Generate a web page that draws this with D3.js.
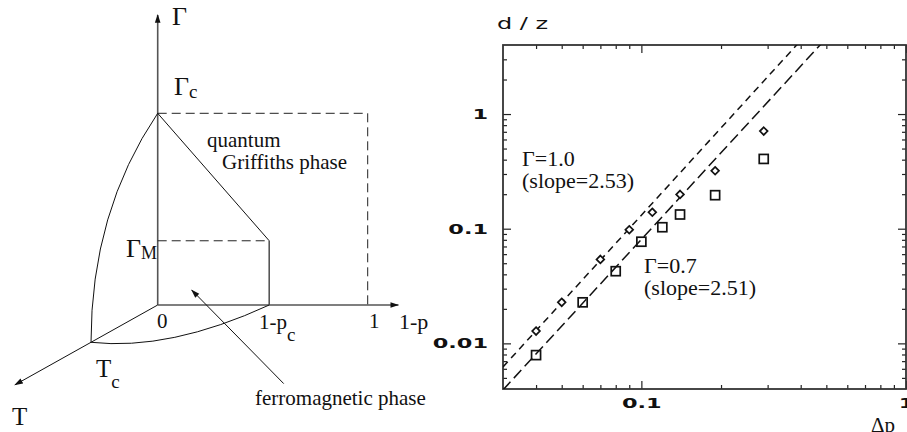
<!DOCTYPE html>
<html>
<head>
<meta charset="utf-8">
<script src="https://cdn.jsdelivr.net/npm/d3@7"></script>
<style>
  body { margin: 0; background: #fff; }
  svg { display: block; }
  .serif { font-family: "Liberation Serif", "DejaVu Serif", serif; fill: #111; }
  .tick text { font-family: "DejaVu Sans", sans-serif; font-weight: bold; font-size: 14px; fill: #111; }
</style>
</head>
<body>
<div id="chart"></div>
<script>
// right panel: d/z against Δp, log-log
const deltaP1 = [0.04, 0.05, 0.07, 0.09, 0.11, 0.14, 0.19, 0.29];   // Γ=1.0, diamonds
const dz1     = [0.0128, 0.0228, 0.054, 0.098, 0.139, 0.199, 0.32, 0.71];
const deltaP2 = [0.04, 0.06, 0.08, 0.10, 0.12, 0.14, 0.19, 0.29];   // Γ=0.7, squares
const dz2     = [0.0079, 0.0228, 0.0426, 0.077, 0.103, 0.133, 0.196, 0.406];
const fitSlopes = [2.53, 2.51];
const fitPrefac = [44.4, 26.1];
const fitNames  = ["Γ=1.0", "Γ=0.7"];
const yMajor = [0.01, 0.1, 1];
const xMajor = [0.1, 1];

// left panel: schematic phase diagram in (1-p, Γ, T) units
const pC = 0.531;          // 1-p_c
const gammaC = 1;
const gammaM = 0.335;
const tC = 1;

const W = 907, H = 432;
const svg = d3.select("#chart").append("svg")
    .attr("width", W).attr("height", H)
    .attr("viewBox", `0 0 ${W} ${H}`);

const defs = svg.append("defs");
defs.append("marker")
    .attr("id", "arrow")
    .attr("viewBox", "0 -4 10 8")
    .attr("refX", 9).attr("refY", 0)
    .attr("markerWidth", 9).attr("markerHeight", 7)
    .attr("markerUnits", "userSpaceOnUse")
    .attr("orient", "auto")
    .append("path").attr("d", "M0,-3.2L10,0L0,3.2Z").attr("fill", "#111");

// ---------------- left panel ----------------
const left = svg.append("g");
const px = d3.scaleLinear().domain([0, 1]).range([157.7, 367.7]);
const gy = d3.scaleLinear().domain([0, 1]).range([305, 113.3]);
const tdx = -66.7, tdy = 37.3;   // screen offset of one unit of T

function proj(p, g, t) {
    return [px(p) + t * tdx, gy(g) + t * tdy];
}
function seg(a, b, opts) {
    const l = left.append("line")
        .attr("x1", a[0]).attr("y1", a[1])
        .attr("x2", b[0]).attr("y2", b[1])
        .attr("stroke", opts.color || "#111")
        .attr("stroke-width", opts.w || 1)
        .attr("fill", "none");
    if (opts.dash) l.attr("stroke-dasharray", opts.dash);
    if (opts.arrow) l.attr("marker-end", "url(#arrow)");
    return l;
}

const O = proj(0, 0, 0);
seg(O, proj(0, 1.513, 0), { color: "#555", w: 1.6, arrow: true });
seg(O, proj(1.146, 0, 0), { color: "#555", w: 1.6, arrow: true });
seg(O, proj(0, 0, 2.14), { color: "#111", w: 1, arrow: true });

// dashed outline of the Griffiths region
seg(proj(0, gammaC, 0), proj(1, gammaC, 0), { color: "#222", dash: "9,5" });
seg(proj(1, gammaC, 0), proj(1, 0, 0), { color: "#222", dash: "9,5" });
seg(proj(0, gammaM, 0), proj(pC, gammaM, 0), { color: "#222", dash: "9,5" });

// phase boundaries
seg(proj(0, gammaC, 0), proj(pC, gammaM, 0), { color: "#111", w: 1 });
seg(proj(pC, gammaM, 0), proj(pC, 0, 0), { color: "#555", w: 1.6 });

const arc1 = d3.path();
arc1.moveTo(...proj(0, gammaC, 0));
arc1.quadraticCurveTo(...proj(0, 0.68, tC), ...proj(0, 0, tC));
left.append("path").attr("d", arc1.toString())
    .attr("fill", "none").attr("stroke", "#111").attr("stroke-width", 1);

const arc2 = d3.path();
arc2.moveTo(...proj(0, 0, tC));
arc2.quadraticCurveTo(...proj(0.448, 0, 1.233), ...proj(pC, 0, 0));
left.append("path").attr("d", arc2.toString())
    .attr("fill", "none").attr("stroke", "#111").attr("stroke-width", 1);

// pointer to the ferromagnetic phase
seg(proj(0.6, -0.41, 0), proj(0.162, 0.078, 0), { color: "#111", w: 1, arrow: true });

function label(x, y, main, sub, size, subSize, subDy) {
    const t = left.append("text").attr("class", "serif")
        .attr("x", x).attr("y", y).style("font-size", size + "px");
    t.append("tspan").text(main);
    if (sub) {
        t.append("tspan").attr("dy", subDy).style("font-size", subSize + "px").text(sub);
    }
    return t;
}
label(172, 25, "Γ", null, 26);
label(174, 95, "Γ", "c", 26, 19, 3);
label(126, 257, "Γ", "M", 26, 18, 2);
label(157, 328, "0", null, 21);
label(259, 329, "1-p", "c", 21, 19, 12);
label(369, 328, "1", null, 21);
label(399, 329, "1-p", null, 22);
label(96, 377, "T", "c", 25, 19, 11);
label(12, 425, "T", null, 25);
label(207, 147, "quantum", null, 21);
label(222, 169, "Griffiths phase", null, 21);
label(255, 405, "ferromagnetic phase", null, 21);

// ---------------- right panel ----------------
const fx0 = 503, fx1 = 906, fy0 = 45, fy1 = 389;
const x = d3.scaleLog().domain([0.03, 1]).range([fx0, fx1]);
const y = d3.scaleLog().domain([0.004, 4]).range([fy1, fy0]);

const right = svg.append("g");
const minorOf = (dom) => {
    const out = [];
    for (let e = -3; e <= 1; e++) {
        for (let m = 2; m <= 9; m++) {
            const v = m * Math.pow(10, e);
            if (v > dom[0] && v < dom[1]) out.push(v);
        }
    }
    return out;
};
const xMinor = minorOf(x.domain());
const yMinor = minorOf(y.domain());
const stretch = 1.6;

function addAxis(axisFn, scale, values, size, tx, ty, withLabels) {
    const a = axisFn(scale).tickValues(values).tickSizeInner(-size).tickSizeOuter(0)
        .tickFormat(withLabels ? d3.format("~g") : "");
    const g = right.append("g").attr("transform", `translate(${tx},${ty})`).call(a);
    g.select(".domain").remove();
    g.selectAll(".tick line").attr("stroke", "#222").attr("stroke-width", 1.2);
    return g;
}
const gl = addAxis(d3.axisLeft, y, yMajor, 8, fx0, 0, true);
addAxis(d3.axisLeft, y, yMinor, 4, fx0, 0, false);
addAxis(d3.axisRight, y, yMajor, 8, fx1, 0, false);
addAxis(d3.axisRight, y, yMinor, 4, fx1, 0, false);
const gb = addAxis(d3.axisBottom, x, xMajor, 8, 0, fy1, true);
addAxis(d3.axisBottom, x, xMinor, 4, 0, fy1, false);
addAxis(d3.axisTop, x, xMajor, 8, 0, fy0, false);
addAxis(d3.axisTop, x, xMinor, 4, 0, fy0, false);

gl.selectAll(".tick text")
    .attr("x", -15 / stretch)
    .attr("transform", `scale(${stretch},1)`);
gb.selectAll(".tick text")
    .attr("y", 9)
    .attr("transform", `scale(${stretch},1)`);

right.append("rect")
    .attr("x", fx0).attr("y", fy0)
    .attr("width", fx1 - fx0).attr("height", fy1 - fy0)
    .attr("fill", "none").attr("stroke", "#333").attr("stroke-width", 1.8);

right.append("text")
    .attr("x", 497 / stretch).attr("y", 29)
    .attr("transform", `scale(${stretch},1)`)
    .style("font-family", "DejaVu Sans, sans-serif")
    .style("font-size", "15px").style("fill", "#111")
    .text("d / z");

right.append("text").attr("class", "serif")
    .attr("x", 871).attr("y", 432)
    .style("font-size", "21px")
    .text("Δp");

// fitted power laws
defs.append("clipPath").attr("id", "plotclip")
    .append("rect").attr("x", fx0).attr("y", fy0)
    .attr("width", fx1 - fx0).attr("height", fy1 - fy0);

const fitDash = ["7,5", "11,5"];
const fitLine = d3.line().x(d => x(d[0])).y(d => y(d[1]));
fitSlopes.forEach((s, i) => {
    const pts = x.domain().map(v => [v, fitPrefac[i] * Math.pow(v, s)]);
    right.append("path")
        .attr("clip-path", "url(#plotclip)")
        .attr("d", fitLine(pts))
        .attr("fill", "none").attr("stroke", "#111")
        .attr("stroke-width", 1.5)
        .attr("stroke-dasharray", fitDash[i]);
});

// data markers
right.append("g").selectAll("path")
    .data(deltaP1.map((v, i) => [v, dz1[i]]))
    .join("path")
    .attr("d", d3.symbol(d3.symbolDiamond2, 38))
    .attr("transform", d => `translate(${x(d[0])},${y(d[1])})`)
    .attr("fill", "#fff").attr("stroke", "#111").attr("stroke-width", 1.7);

right.append("g").selectAll("rect")
    .data(deltaP2.map((v, i) => [v, dz2[i]]))
    .join("rect")
    .attr("x", d => x(d[0]) - 4.5).attr("y", d => y(d[1]) - 4.5)
    .attr("width", 9).attr("height", 9)
    .attr("fill", "none").attr("stroke", "#111").attr("stroke-width", 1.7);

// annotations, two lines each in one text block
const notes = [
    { x: 522, y: 166, lines: [fitNames[0], `(slope=${fitSlopes[0]})`] },
    { x: 644, y: 273, lines: [fitNames[1], `(slope=${fitSlopes[1]})`] }
];
notes.forEach(n => {
    const t = right.append("text").attr("class", "serif")
        .attr("x", n.x).attr("y", n.y)
        .style("font-size", "22px");
    n.lines.forEach((txt, k) => {
        t.append("tspan")
            .attr("x", n.x)
            .attr("dy", k === 0 ? 0 : 22)
            .text(txt);
    });
});
</script>
</body>
</html>
